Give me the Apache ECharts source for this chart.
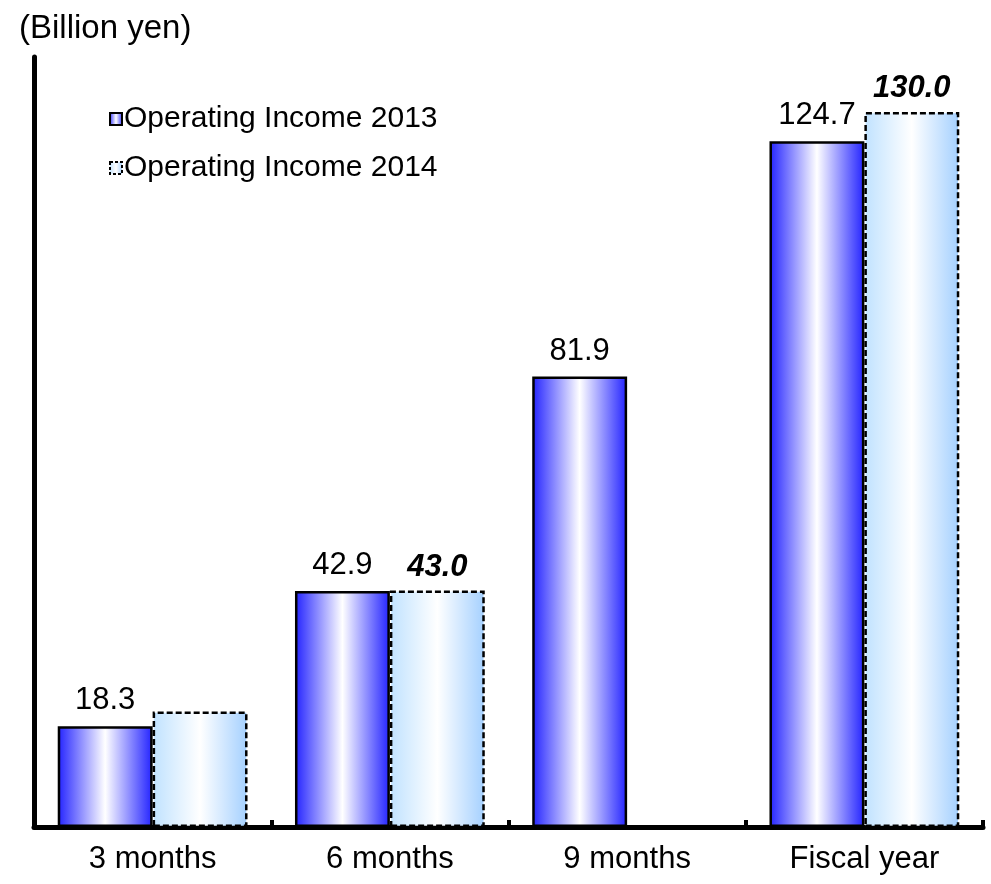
<!DOCTYPE html>
<html>
<head>
<meta charset="utf-8">
<script src="https://cdn.jsdelivr.net/npm/echarts@6/dist/echarts.min.js"></script>
<style>
  html, body { margin: 0; padding: 0; background: #fff; }
  #chart { width: 991px; height: 884px; }
</style>
</head>
<body>
<div id="chart"></div>
<script>
// Operating income by cumulative period (billion yen)
const categories = ['3 months', '6 months', '9 months', 'Fiscal year'];
const income2013 = [18.3, 42.9, 81.9, 124.7];
const income2014 = [21.0, 43.0, null, 130.0];
// Which 2014 values carry a printed label
const labelled2014 = [false, true, false, true];
const seriesNames = ['Operating Income 2013', 'Operating Income 2014'];

const FONT = '"Liberation Sans", Arial, sans-serif';
const FS = 31;

const grad2013 = () => new echarts.graphic.LinearGradient(0, 0, 1, 0, [
  { offset: 0, color: '#2222ff' },
  { offset: 0.5, color: '#ffffff' },
  { offset: 1, color: '#2222ff' }
]);
const grad2014 = () => new echarts.graphic.LinearGradient(0, 0, 1, 0, [
  { offset: 0, color: '#c0e2ff' },
  { offset: 0.5, color: '#ffffff' },
  { offset: 1, color: '#a4d0ff' }
]);

const chart = echarts.init(document.getElementById('chart'), null, { renderer: 'canvas' });

chart.setOption({
  animation: false,
  backgroundColor: '#ffffff',
  textStyle: { fontFamily: FONT, color: '#000' },
  title: {
    text: '(Billion yen)',
    left: 14,
    top: 7,
    textStyle: { fontFamily: FONT, fontSize: FS + 2, fontWeight: 'normal', color: '#000' }
  },
  legend: {
    orient: 'vertical',
    left: 104,
    top: 99,
    icon: 'rect',
    itemWidth: 12,
    itemHeight: 12,
    itemGap: 19,
    textStyle: { fontFamily: FONT, fontSize: FS - 1, color: '#000', padding: [0, 0, 0, -3] },
    data: [
      {
        name: seriesNames[0],
        itemStyle: { color: grad2013(), borderColor: '#000', borderWidth: 2 }
      },
      {
        name: seriesNames[1],
        itemStyle: { color: grad2014(), borderColor: '#000', borderWidth: 2, borderType: [3, 2] }
      }
    ]
  },
  grid: { left: 34, right: 8, top: 57, bottom: 57, containLabel: false },
  xAxis: {
    type: 'category',
    data: categories,
    axisLine: { lineStyle: { color: '#000', width: 5 } },
    axisTick: { show: true, inside: true, length: 7, lineStyle: { color: '#000', width: 4 } },
    axisLabel: { fontFamily: FONT, fontSize: FS, color: '#000', margin: 17 }
  },
  yAxis: {
    type: 'value',
    min: 0,
    max: 140,
    axisLine: { show: true, lineStyle: { color: '#000', width: 5 } },
    axisTick: { show: false },
    axisLabel: { show: false },
    splitLine: { show: false }
  },
  series: [
    {
      name: seriesNames[0],
      type: 'bar',
      data: income2013,
      barGap: '0%',
      barCategoryGap: '20%',
      itemStyle: { color: grad2013(), borderColor: '#000', borderWidth: 2.5 },
      label: {
        show: true,
        position: 'top',
        distance: 10,
        fontFamily: FONT,
        fontSize: FS,
        color: '#000',
        formatter: p => p.value.toFixed(1)
      }
    },
    {
      name: seriesNames[1],
      type: 'bar',
      data: income2014.map((v, i) => ({
        value: v,
        label: { show: labelled2014[i] }
      })),
      barGap: '0%',
      barCategoryGap: '20%',
      itemStyle: {
        color: grad2014(),
        borderColor: '#000',
        borderWidth: 2.5,
        borderType: [6, 3]
      },
      label: {
        position: 'top',
        distance: 8,
        fontFamily: FONT,
        fontSize: FS,
        fontWeight: 'bold',
        fontStyle: 'italic',
        color: '#000',
        formatter: p => p.value.toFixed(1)
      }
    }
  ]
});
</script>
</body>
</html>
